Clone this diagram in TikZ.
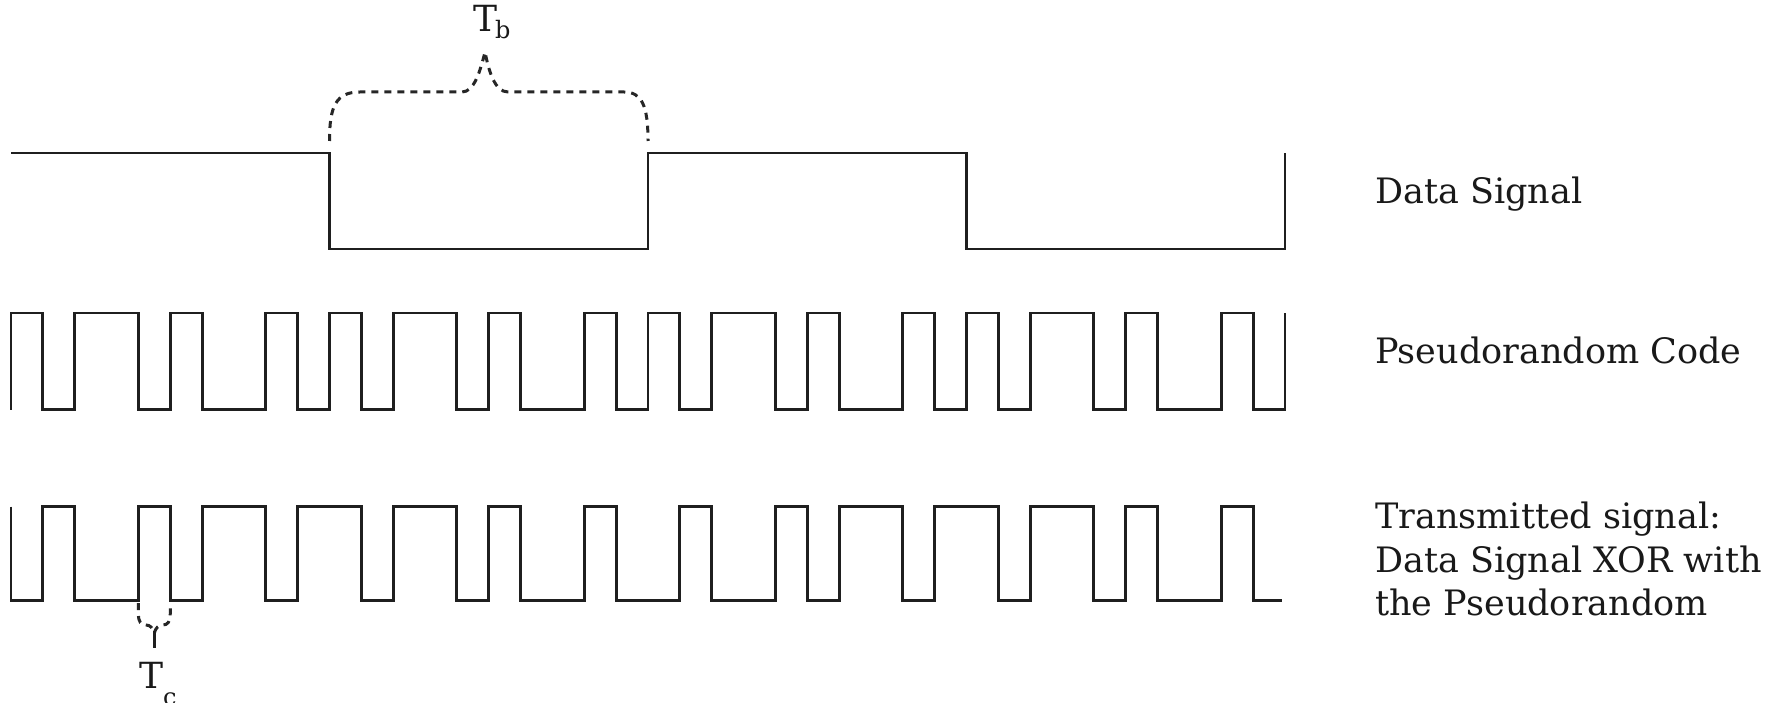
\documentclass[tikz,border=0pt]{standalone}
\usepackage{fontspec}
\setmainfont{DejaVu Serif}
\begin{document}
\begin{tikzpicture}[x=1pt,y=-1pt,
  wave/.style={line width=2.9pt, line join=miter, line cap=butt, black!88},
  bracedash/.style={line width=3pt, dash pattern=on 7pt off 6pt, black!85},
  lbl/.style={font=\fontsize{35}{40}\selectfont, anchor=base west, inner sep=0pt, text=black!90},
  sym/.style={font=\fontsize{36}{40}\selectfont, anchor=base, inner sep=0pt, text=black!90},
  subs/.style={font=\fontsize{24}{28}\selectfont, anchor=base west, inner sep=0pt, text=black!90}]
\useasboundingbox (0,0) rectangle (1768,703);
\fill[white] (0,0) rectangle (1768,703);
\clip (0,0) rectangle (1768,703);

% waveforms in chip units
\begin{scope}[xshift=11pt, x=31.85pt]
% data signal
\draw[wave] (0,153) -- (10,153) -- (10,249) -- (20,249) -- (20,153) -- (30,153)
  -- (30,249) -- (40,249) -- (40,153);
% pseudorandom code
\draw[wave] (0,409.5) -- (0,313) -- (1,313) -- (1,409.5) -- (2,409.5) -- (2,313)
  -- (4,313) -- (4,409.5) -- (5,409.5) -- (5,313) -- (6,313) -- (6,409.5)
  -- (8,409.5) -- (8,313) -- (9,313) -- (9,409.5) -- (10,409.5) -- (10,313)
  -- (11,313) -- (11,409.5) -- (12,409.5) -- (12,313) -- (14,313) -- (14,409.5)
  -- (15,409.5) -- (15,313) -- (16,313) -- (16,409.5) -- (18,409.5) -- (18,313)
  -- (19,313) -- (19,409.5) -- (20,409.5) -- (20,313)
  -- (21,313) -- (21,409.5) -- (22,409.5) -- (22,313)
  -- (24,313) -- (24,409.5) -- (25,409.5) -- (25,313) -- (26,313) -- (26,409.5)
  -- (28,409.5) -- (28,313) -- (29,313) -- (29,409.5) -- (30,409.5) -- (30,313)
  -- (31,313) -- (31,409.5) -- (32,409.5) -- (32,313) -- (34,313) -- (34,409.5)
  -- (35,409.5) -- (35,313) -- (36,313) -- (36,409.5) -- (38,409.5) -- (38,313)
  -- (39,313) -- (39,409.5) -- (40,409.5) -- (40,313);
% transmitted signal
\draw[wave] (0,506.5) -- (0,600.5) -- (1,600.5) -- (1,506.5) -- (2,506.5) -- (2,600.5)
  -- (4,600.5) -- (4,506.5) -- (5,506.5) -- (5,600.5) -- (6,600.5) -- (6,506.5)
  -- (8,506.5) -- (8,600.5) -- (9,600.5) -- (9,506.5) -- (11,506.5) -- (11,600.5)
  -- (12,600.5) -- (12,506.5) -- (14,506.5) -- (14,600.5) -- (15,600.5) -- (15,506.5)
  -- (16,506.5) -- (16,600.5) -- (18,600.5) -- (18,506.5) -- (19,506.5) -- (19,600.5)
  -- (21,600.5) -- (21,506.5) -- (22,506.5) -- (22,600.5) -- (24,600.5) -- (24,506.5)
  -- (25,506.5) -- (25,600.5) -- (26,600.5) -- (26,506.5) -- (28,506.5) -- (28,600.5)
  -- (29,600.5) -- (29,506.5) -- (31,506.5) -- (31,600.5) -- (32,600.5) -- (32,506.5)
  -- (34,506.5) -- (34,600.5) -- (35,600.5) -- (35,506.5) -- (36,506.5) -- (36,600.5)
  -- (38,600.5) -- (38,506.5) -- (39,506.5) -- (39,600.5) -- (39.9,600.5);
\end{scope}

% T_b brace
\draw[bracedash] (329.5,141) .. controls (329.5,106) and (336,92) .. (360,92)
  -- (462,92) .. controls (474,92) and (480,72) .. (485,52)
  .. controls (489,72) and (495,92) .. (508,92) -- (624,92)
  .. controls (642,92) and (648,106) .. (648,141);
% T_c brace
\draw[bracedash] (138.4,603) -- (138.4,614) .. controls (138.4,622) and (141,625) .. (146,625)
  .. controls (150,625) and (153,628) .. (154.3,633)
  .. controls (155.6,628) and (158.6,625) .. (162.6,625)
  .. controls (167.6,625) and (170.25,622) .. (170.25,614) -- (170.25,603);
\draw[wave] (154.3,631) -- (154.3,648);

% labels
\node[lbl] (ds) at (1375,203.3) {Data Signal};
\node[lbl] (pn) at (1375,363.3) {Pseudorandom Code};
\node[lbl] (t1) at (1375,528.3) {Transmitted signal:};
\node[lbl] (t2) at (1375,572.5) {Data Signal XOR with};
\node[lbl] (t3) at (1375,615.5) {the Pseudorandom};
\node[sym] (tb) at (485,31.7) {T};
\node[subs] (tbs) at (495,38.3) {b};
\node[sym] (tc) at (151.5,688.3) {T};
\node[subs] (tcs) at (163,705.8) {c};
\end{tikzpicture}
\end{document}
